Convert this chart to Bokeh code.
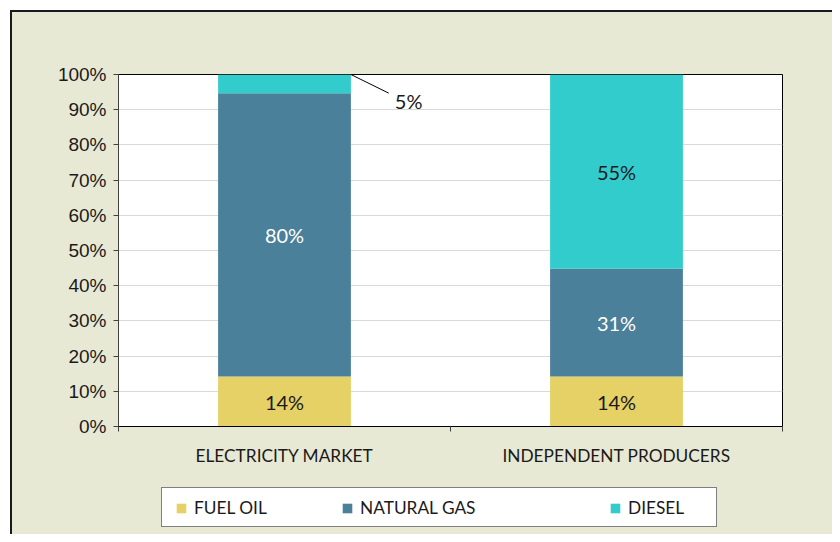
from bokeh.plotting import figure
from bokeh.layouts import column
from bokeh.models import Range1d, FixedTicker, Legend, LegendItem
from bokeh.core.properties import value
from bokeh.embed import file_html
from bokeh.resources import INLINE

# ---- data ----
categories = ["ELECTRICITY MARKET", "INDEPENDENT PRODUCERS"]
series = ["FUEL OIL", "NATURAL GAS", "DIESEL"]
fuel_oil = [14.2, 14.2]
natural_gas = [80.5, 30.6]
diesel = [5.3, 55.2]
fuel_oil_labels = ["14%", "14%"]
natural_gas_labels = ["80%", "31%"]
diesel_labels = ["5%", "55%"]
y_ticks = [0, 10, 20, 30, 40, 50, 60, 70, 80, 90, 100]

values = [fuel_oil, natural_gas, diesel]
labels = [fuel_oil_labels, natural_gas_labels, diesel_labels]

# ---- style ----
colors = ["#E5D165", "#4A8099", "#33CCCC"]
label_colors = ["#1A1A1A", "#FFFFFF", "#1A1A1A"]
BG = "#E8E9D4"
TEXT = "#1A1A1A"
BAR_W = 0.40
W = 820

xs = [i + 0.5 for i in range(len(categories))]

p = figure(width=W, height=468,
           x_range=Range1d(0, len(categories)), y_range=Range1d(0, 100),
           output_backend="svg", toolbar_location=None,
           min_border_left=106, min_border_right=50,
           min_border_top=62, min_border_bottom=54)
p.border_fill_color = BG
p.background_fill_color = "white"
p.outline_line_color = "black"
p.outline_line_width = 1

p.xgrid.visible = False
p.ygrid.ticker = FixedTicker(ticks=y_ticks)
p.ygrid.grid_line_color = "#D9D9D9"
p.ygrid.grid_line_width = 1

# y axis
ya = p.yaxis[0]
ya.ticker = FixedTicker(ticks=y_ticks)
ya.major_label_overrides = {t: f"{t}%" for t in y_ticks}
ya.axis_line_color = "#404040"
ya.major_tick_line_color = "#404040"
ya.major_tick_out = 5
ya.major_tick_in = 0
ya.minor_tick_line_color = None
ya.major_label_standoff = 7
ya.major_label_text_font = "Liberation Sans"
ya.major_label_text_font_size = "19px"
ya.major_label_text_color = TEXT

# x axis
xa = p.xaxis[0]
xa.ticker = FixedTicker(ticks=xs, minor_ticks=list(range(len(categories) + 1)))
xa.major_label_overrides = {x: c for x, c in zip(xs, categories)}
xa.axis_line_color = "black"
xa.major_tick_out = 0
xa.major_tick_in = 0
xa.minor_tick_out = 5
xa.minor_tick_in = 0
xa.minor_tick_line_color = "#404040"
xa.major_label_standoff = 13
xa.major_label_text_font = "Lato"
xa.major_label_text_font_size = "17.3px"
xa.major_label_text_color = TEXT

# bars
bottoms = [0.0] * len(categories)
for s, vals in enumerate(values):
    tops = [b + v for b, v in zip(bottoms, vals)]
    p.vbar(x=xs, bottom=bottoms, top=tops, width=BAR_W,
           fill_color=colors[s], line_color=None)
    inside_x, inside_y, inside_t = [], [], []
    for i, v in enumerate(vals):
        if v >= 8:
            inside_x.append(xs[i])
            inside_y.append((bottoms[i] + tops[i]) / 2)
            inside_t.append(labels[s][i])
        else:
            # small segment: label outside with a leader line
            x0 = xs[i] + BAR_W / 2
            y0 = tops[i]
            p.segment(x0=[x0], y0=[y0], x1=[x0 + 0.114], y1=[y0 - 5.3],
                      line_color="black", line_width=1)
            p.text(x=[x0 + 0.174], y=[y0 - 7.5], text=[labels[s][i]],
                   text_align="center", text_baseline="middle",
                   text_font=value("Lato"), text_font_size="20px",
                   text_color=TEXT)
    if inside_x:
        p.text(x=inside_x, y=inside_y, text=inside_t,
               text_align="center", text_baseline="middle",
               text_font=value("Lato"), text_font_size="20px",
               text_color=label_colors[s])
    bottoms = tops

# ---- legend strip (its frame is aligned with the chart frame) ----
leg = figure(width=W, height=54, x_range=Range1d(0, 1), y_range=Range1d(0, 1),
             output_backend="svg", toolbar_location=None, min_border=0,
             x_axis_type=None, y_axis_type=None)
leg.grid.visible = False
leg.outline_line_color = None
leg.background_fill_color = BG
leg.background_fill_alpha = 1
leg.border_fill_color = BG

# zero-size proxies carrying the series colours for the legend swatches
proxies = [leg.vbar(x=[0], bottom=[0], top=[0], width=0,
                    fill_color=c, line_color=None) for c in colors]
frame_proxy = leg.vbar(x=[0], bottom=[0], top=[0], width=0,
                       fill_alpha=0, line_alpha=0)

box = Legend(items=[LegendItem(label=" ", renderers=[frame_proxy])],
             location=(43, 7), orientation="horizontal",
             padding=0, spacing=0, margin=0,
             glyph_width=554, glyph_height=38, label_standoff=0,
             label_width=0, label_height=0,
             border_line_color="black", border_line_width=1,
             background_fill_color="white", background_fill_alpha=1,
             label_text_font_size="1px")
leg.add_layout(box)

legend_x = [57, 223, 491]
for s, name in enumerate(series):
    lg = Legend(items=[LegendItem(label=name, renderers=[proxies[s]])],
                location=(legend_x[s], 16), orientation="horizontal",
                padding=0, spacing=0, margin=0,
                glyph_width=12, glyph_height=12, label_standoff=7,
                label_height=20,
                border_line_color=None, background_fill_alpha=0,
                label_text_font="Lato", label_text_font_size="17.3px",
                label_text_color=TEXT)
    leg.add_layout(lg)

layout = column(p, leg, spacing=0, margin=(10, 0, 0, 10),
                styles={"background-color": BG,
                        "border-top": "2px solid #1A1A1A",
                        "border-left": "2px solid #1A1A1A"})
open("out.html", "w").write(file_html(layout, INLINE))
